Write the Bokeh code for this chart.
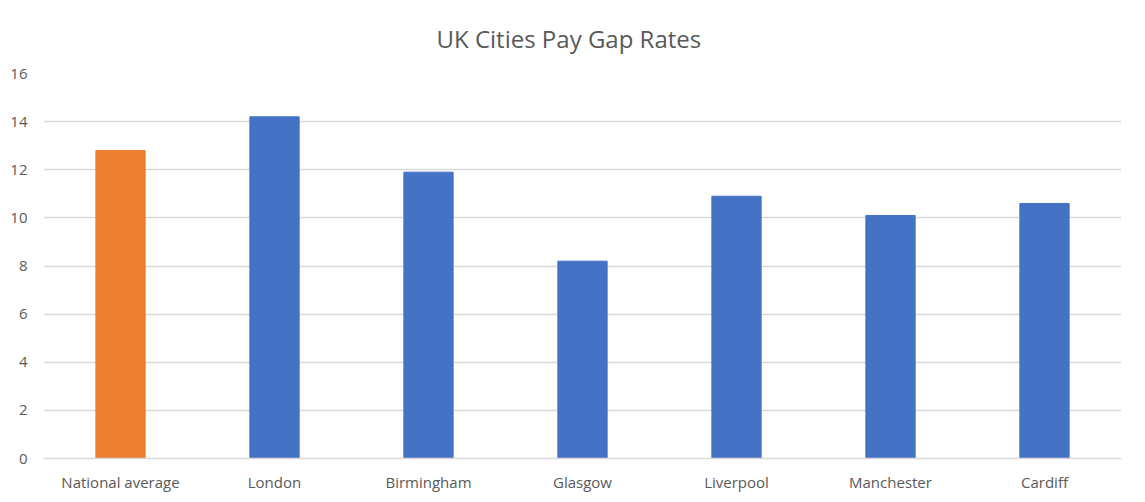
from bokeh.plotting import figure
from bokeh.embed import file_html
from bokeh.resources import INLINE
from bokeh.models import ColumnDataSource, FixedTicker

categories = ["National average", "London", "Birmingham", "Glasgow", "Liverpool", "Manchester", "Cardiff"]
values = [12.8, 14.2, 11.9, 8.2, 10.9, 10.1, 10.6]
bar_colors = ["#ED7D31", "#4472C4", "#4472C4", "#4472C4", "#4472C4", "#4472C4", "#4472C4"]
y_ticks = [0, 2, 4, 6, 8, 10, 12, 14, 16]

FONT = "Open Sans"
TXT = "#595959"

src = ColumnDataSource(dict(cat=categories, val=values, color=bar_colors))

p = figure(x_range=categories, y_range=(0, 16),
           frame_width=1078, frame_height=385,
           output_backend="svg", toolbar_location=None,
           min_border_left=43, min_border_right=16, min_border_bottom=34, min_border_top=73)

p.vbar(x="cat", top="val", width=0.32, color="color", source=src)

p.title.text = "UK Cities Pay Gap Rates"
p.title.align = "left"
p.title.offset = 393
p.title.text_font = FONT
p.title.text_font_size = "24px"
p.title.text_font_style = "normal"
p.title.text_color = TXT
p.title.standoff = 38

p.outline_line_color = None
p.xgrid.grid_line_color = None
p.ygrid.grid_line_color = "#D9D9D9"
p.ygrid.grid_line_width = 1.5
p.yaxis.ticker = FixedTicker(ticks=y_ticks)

for ax in (p.xaxis, p.yaxis):
    ax.axis_line_color = None
    ax.major_tick_line_color = None
    ax.minor_tick_line_color = None
    ax.major_tick_out = 0
    ax.major_tick_in = 0
    ax.minor_tick_out = 0
    ax.major_label_text_font = FONT
    ax.major_label_text_font_size = "15px"
    ax.major_label_text_color = TXT

p.xaxis.axis_line_color = "#D9D9D9"
p.xaxis.axis_line_width = 1.5
p.xaxis.major_label_standoff = 13
p.yaxis.major_label_standoff = 16

open("out.html", "w").write(file_html(p, INLINE))
